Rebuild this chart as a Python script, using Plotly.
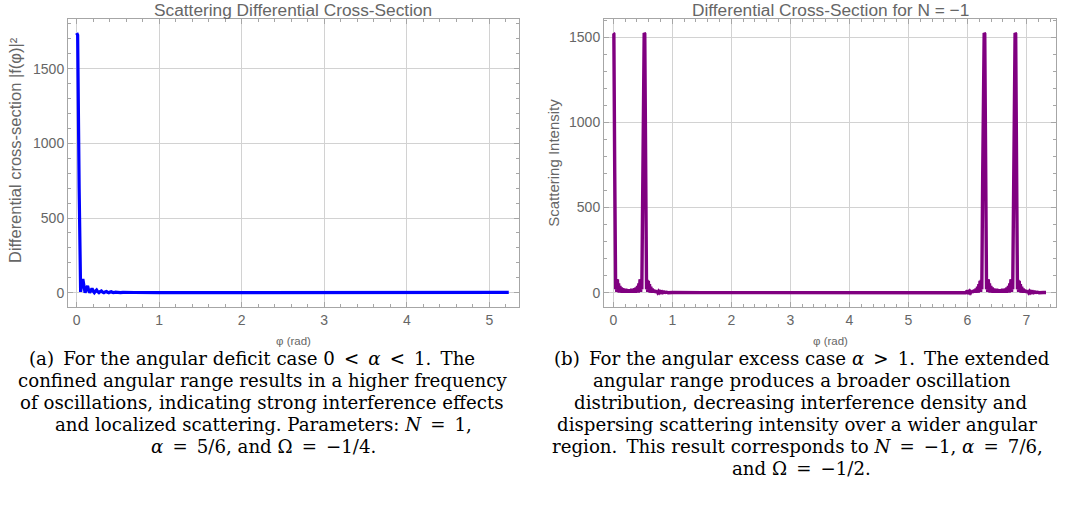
import plotly.graph_objects as go

# ---------------- data ----------------
# (a) N = 1, alpha = 5/6, Omega = -1/4  (phi from 0 to 5*pi/3)
phi_a = [0.000, 0.012, 0.030, 0.048, 0.060, 0.075, 0.090, 0.102, 0.118, 0.132,
         0.146, 0.158, 0.172, 0.186, 0.200, 0.214, 0.228, 0.242, 0.256, 0.270,
         0.285, 0.300, 0.315, 0.330, 0.345, 0.360, 0.375, 0.390, 0.405, 0.420,
         0.435, 0.450, 0.470, 0.490, 0.510, 0.530, 0.560, 0.600, 0.700, 1.000,
         2.000, 3.000, 4.000, 5.000, 5.236]
sigma_a = [1739, 1725, 700, 5, 60, 92, 40, 0, 25, 45,
           15, 0, 15, 28, 10, 0, 10, 18, 6, 0,
           7, 12, 4, 0, 5, 8, 3, 0, 4, 6,
           2, 0, 4, 1, 3, 0, 2, 0.5, 1, 0.5,
           0.5, 0.5, 0.5, 1, 2]

# (b) N = -1, alpha = 7/6, Omega = -1/2  (phi from 0 to 7*pi/3)
phi_b = [
    # main lobe at 0 and band up to pi/6
    0.0000, 0.0100, 0.0250, 0.0400, 0.0500, 0.0600, 0.0700, 0.0800, 0.0900,
    0.1000, 0.1124, 0.1249, 0.1373, 0.1498, 0.1622, 0.1747, 0.1871, 0.1996,
    0.2120, 0.2245, 0.2369, 0.2493, 0.2618, 0.2742, 0.2867, 0.2991, 0.3116,
    0.3240, 0.3365, 0.3489, 0.3614, 0.3738, 0.3862, 0.3987, 0.4111, 0.4236,
    0.4336, 0.4436, 0.4536, 0.4636, 0.4736, 0.4836, 0.4986, 0.5136, 0.5236,
    # tail after pi/6
    0.5336, 0.5486, 0.5636, 0.5736, 0.5836, 0.5936, 0.6036, 0.6136, 0.6236,
    0.6356, 0.6476, 0.6600, 0.6720, 0.6850, 0.6980, 0.7100, 0.7240, 0.7380,
    0.7520, 0.7660, 0.7800, 0.7950, 0.8100, 0.8250, 0.8400, 0.8600, 0.8800,
    0.9000, 0.9300, 0.9600, 1.0000, 1.5000, 2.5000, 3.5000, 4.5000, 5.2000,
    5.5000, 5.7000,
    # rise towards 2*pi
    5.8068, 5.8468, 5.8768, 5.9068, 5.9268, 5.9468, 5.9668, 5.9818, 5.9968,
    6.0118, 6.0268, 6.0408, 6.0548, 6.0688, 6.0828, 6.0968, 6.1088, 6.1218,
    6.1348, 6.1468, 6.1592, 6.1712, 6.1832, 6.1932, 6.2032, 6.2132, 6.2232,
    6.2332, 6.2432, 6.2582, 6.2732, 6.2832,
    # band between 2*pi and 2*pi + pi/6
    6.2932, 6.3082, 6.3232, 6.3332, 6.3432, 6.3532, 6.3632, 6.3732,
    6.3832, 6.3956, 6.4081, 6.4205, 6.4330, 6.4454, 6.4579, 6.4703, 6.4828,
    6.4952, 6.5077, 6.5201, 6.5325, 6.5450, 6.5574, 6.5699, 6.5823, 6.5948,
    6.6072, 6.6197, 6.6321, 6.6446, 6.6570, 6.6694, 6.6819, 6.6943, 6.7068,
    6.7168, 6.7268, 6.7368, 6.7468, 6.7568, 6.7668, 6.7818, 6.7968, 6.8068,
    # tail up to 7*pi/3
    6.8168, 6.8318, 6.8468, 6.8568, 6.8668, 6.8768, 6.8868, 6.8968, 6.9068,
    6.9188, 6.9308, 6.9432, 6.9552, 6.9682, 6.9812, 6.9932, 7.0072, 7.0212,
    7.0352, 7.0492, 7.0632, 7.0782, 7.0932, 7.1082, 7.1232, 7.1432, 7.1632,
    7.1832, 7.2132, 7.2432, 7.2832, 7.3304,
]
sigma_b = [
    1525, 1520, 700, 20, 80, 5, 78, 10, 55,
    0, 40, 2, 30, 0, 25, 2, 20, 0,
    22, 2, 18, 0, 20, 0, 18, 2, 22,
    0, 20, 2, 25, 0, 30, 2, 40, 0,
    55, 10, 78, 5, 80, 20, 700, 1520, 1525,
    1520, 700, 20, 75, 5, 70, 8, 50, 0,
    35, 2, 25, 0, 18, 1, 14, 0, 10,
    1, 8, 0, 6, 1, 5, 0, 4, 1,
    3, 0, 2, 1, 0.5, 0.5, 0.5, 0.5, 1,
    1, 1.5,
    1, 2, 0, 3, 1, 4, 0, 5, 1,
    6, 0, 8, 1, 10, 0, 14, 1, 18,
    0, 25, 2, 35, 0, 50, 8, 70, 5,
    75, 20, 700, 1520, 1525,
    1520, 700, 20, 80, 5, 78, 10, 55,
    0, 40, 2, 30, 0, 25, 2, 20, 0,
    22, 2, 18, 0, 20, 0, 18, 2, 22,
    0, 20, 2, 25, 0, 30, 2, 40, 0,
    55, 10, 78, 5, 80, 20, 700, 1520, 1525,
    1520, 700, 20, 75, 5, 70, 8, 50, 0,
    35, 2, 25, 0, 18, 1, 14, 0, 10,
    1, 8, 0, 6, 1, 5, 0, 4, 1,
    3, 0, 2, 1, 1,
]

x_ticks = [0, 1, 2, 3, 4, 5, 6, 7]
y_ticks = [0, 500, 1000, 1500]

# en spaces give the relation symbols their math spacing
S = "\u2002"
caption_a = [
    f"(a)\u2002For the angular deficit case 0{S}&lt;{S}<i>α</i>{S}&lt;{S}1.\u2002The",
    "confined angular range results in a higher frequency",
    "of oscillations, indicating strong interference effects",
    f"and localized scattering. Parameters: <i>N</i>{S}={S}1,",
    f"<i>α</i>{S}={S}5/6, and Ω{S}={S}−1/4.",
]
caption_b = [
    f"(b)\u2002For the angular excess case <i>α</i>{S}&gt;{S}1.\u2002The extended",
    "angular range produces a broader oscillation",
    "distribution, decreasing interference density and",
    "dispersing scattering intensity over a wider angular",
    f"region.\u2002This result corresponds to <i>N</i>{S}={S}−1, <i>α</i>{S}={S}7/6,",
    f"and Ω{S}={S}−1/2.",
]

# ---------------- figure ----------------
W, H = 1077, 506
GRAY_TXT = "#666666"
FRAME = "#a6a6a6"
GRID = "#d2d2d2"
SANS = "Liberation Sans, Arial, sans-serif"
SERIF = "DejaVu Serif, serif"


def px_x(p):
    return p / W


def px_y(p):
    return 1 - p / H


fig = go.Figure()
fig.add_trace(go.Scatter(x=phi_a, y=sigma_a, mode="lines",
                         line=dict(color="#0000ff", width=3.2),
                         xaxis="x", yaxis="y", showlegend=False))
fig.add_trace(go.Scatter(x=phi_b, y=sigma_b, mode="lines",
                         line=dict(color="#800080", width=3.4),
                         xaxis="x2", yaxis="y2", showlegend=False))

common_x = dict(
    tickvals=x_ticks, ticks="inside", ticklen=5, tickcolor=FRAME,
    showline=True, linecolor=FRAME, linewidth=1, mirror="allticks",
    showgrid=True, gridcolor=GRID, gridwidth=1, zeroline=False,
    tickfont=dict(family=SANS, size=14, color=GRAY_TXT),
    minor=dict(dtick=0.2, ticks="inside", ticklen=3, tickcolor=FRAME, showgrid=False),
)
common_y = dict(
    tickvals=y_ticks, ticks="inside", ticklen=5, tickcolor=FRAME,
    showline=True, linecolor=FRAME, linewidth=1, mirror="allticks",
    showgrid=True, gridcolor=GRID, gridwidth=1, zeroline=False,
    tickfont=dict(family=SANS, size=14, color=GRAY_TXT),
    minor=dict(dtick=100, ticks="inside", ticklen=3, tickcolor=FRAME, showgrid=False),
)

fig.update_layout(
    width=W, height=H, margin=dict(l=0, r=0, t=0, b=0),
    paper_bgcolor="white", plot_bgcolor="white",
    xaxis=dict(common_x, domain=[px_x(68), px_x(519)], range=[-0.105, 5.36], anchor="y"),
    yaxis=dict(common_y, domain=[px_y(307), px_y(19)], range=[-96, 1833], anchor="x"),
    xaxis2=dict(common_x, domain=[px_x(604), px_x(1056)], range=[-0.157, 7.50], anchor="y2"),
    yaxis2=dict(common_y, domain=[px_y(307), px_y(19)], range=[-84, 1607], anchor="x2",
                title=dict(text="Scattering Intensity",
                           font=dict(family=SANS, size=15, color=GRAY_TXT), standoff=5)),
)

annotations = []
# left y-axis label
annotations.append(dict(text="Differential cross-section |f(φ)|²", textangle=-90,
                        x=px_x(15), y=px_y(150), xref="paper", yref="paper",
                        xanchor="center", yanchor="middle", showarrow=False,
                        font=dict(family=SANS, size=16.5, color=GRAY_TXT)))
# panel titles
for text, xc in [("Scattering Differential Cross‐Section", 293),
                 ("Differential Cross‐Section for N = −1", 830)]:
    annotations.append(dict(text=text, x=px_x(xc), y=px_y(10), xref="paper", yref="paper",
                            xanchor="center", yanchor="middle", showarrow=False,
                            font=dict(family=SANS, size=17.3, color=GRAY_TXT)))

# x-axis labels (placed just above the captions)
for xc in (293, 830):
    annotations.append(dict(text="φ (rad)", x=px_x(xc), y=px_y(341), xref="paper", yref="paper",
                            xanchor="center", yanchor="middle", showarrow=False,
                            font=dict(family=SANS, size=11.5, color=GRAY_TXT)))

# captions, one annotation per line
line_y = [358, 380, 402, 424, 446, 468]
for lines, centers in [(caption_a, [252, 262, 262, 263, 263]),
                       (caption_b, [802, 802, 800, 797, 797, 801])]:
    for i, (t, xc) in enumerate(zip(lines, centers)):
        annotations.append(dict(text=t, x=px_x(xc), y=px_y(line_y[i]), xref="paper", yref="paper",
                                xanchor="center", yanchor="middle", showarrow=False,
                                font=dict(family=SERIF, size=18.2, color="#000000")))

fig.update_layout(annotations=annotations)
fig.write_html("out.html")
